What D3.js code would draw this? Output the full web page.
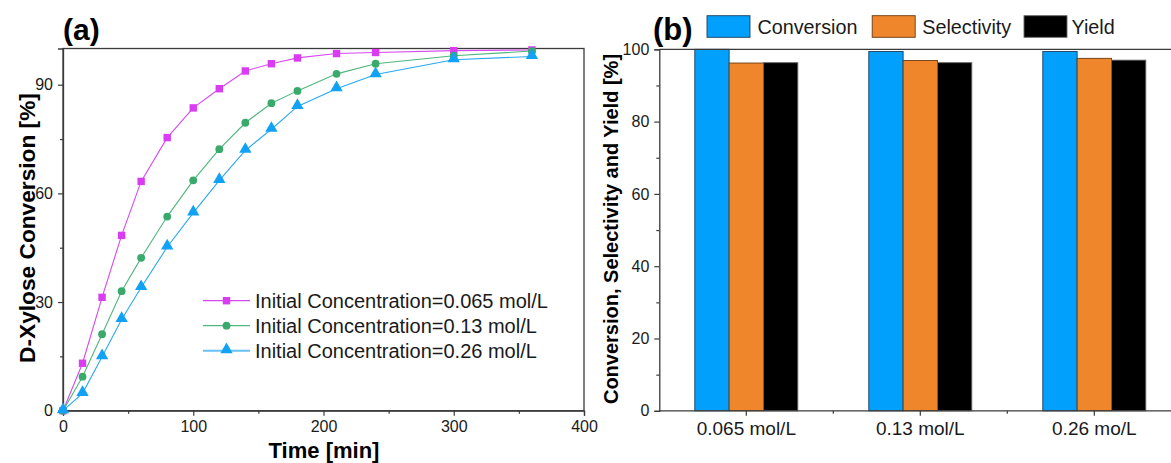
<!DOCTYPE html>
<html><head><meta charset="utf-8">
<script src="https://cdn.jsdelivr.net/npm/d3@7"></script>
<style>body{margin:0;background:#fff}svg{display:block;font-family:"Liberation Sans",Arial,sans-serif}</style>
</head><body>
<svg id="c" width="1171" height="463"></svg>
<script>
// ---------- data: panel (a) ----------
const timeA = [0, 15, 30, 45, 60, 80, 100, 120, 140, 160, 180, 210, 240, 300, 360];
const conv065 = [0, 13.1, 31.3, 48.4, 63.3, 75.4, 83.6, 88.9, 93.8, 95.8, 97.4, 98.6, 98.9, 99.4, 99.6];
const conv013 = [0, 9.4, 21.1, 33.0, 42.2, 53.6, 63.6, 72.2, 79.5, 84.9, 88.3, 93.0, 95.8, 98.0, 99.3];
const conv026 = [0, 4.8, 14.9, 25.2, 34.0, 45.2, 54.6, 63.6, 71.9, 77.7, 84.0, 88.9, 92.8, 96.9, 97.8];
const seriesNamesA = ["Initial Concentration=0.065 mol/L", "Initial Concentration=0.13 mol/L", "Initial Concentration=0.26 mol/L"];
const xTicksA = [0, 100, 200, 300, 400];
const yTicksA = [0, 30, 60, 90];
// ---------- data: panel (b) ----------
const categoriesB = ["0.065 mol/L", "0.13 mol/L", "0.26 mo/L"];
const metricsB = ["Conversion", "Selectivity", "Yield"];
const conversionB = [100, 99.4, 99.4];
const selectivityB = [96.2, 96.9, 97.5];
const yieldB = [96.3, 96.3, 97.0];
const yTicksB = [0, 20, 40, 60, 80, 100];

const svg = d3.select("#c");
const axisCol = "#3a3a3a";
const FONT = '"Liberation Sans",Arial,sans-serif';

// ================= Panel (a) =================
const xA = d3.scaleLinear().domain([0, 400]).range([63, 584]);
const yA = d3.scaleLinear().domain([0, 100]).range([410.7, 48.5]);

const gA = svg.append("g");
gA.append("rect").attr("x", xA(0)).attr("y", yA(100)).attr("width", xA(400) - xA(0)).attr("height", yA(0) - yA(100))
  .attr("fill", "none").attr("stroke", axisCol).attr("stroke-width", 1.3);

const xAxA = gA.append("g").attr("transform", `translate(0,${yA(0)})`)
  .call(d3.axisBottom(xA).tickValues(xTicksA).tickSize(5).tickPadding(5));
gA.append("g").attr("transform", `translate(0,${yA(0)})`)
  .call(d3.axisBottom(xA).tickValues([50, 150, 250, 350]).tickSize(3).tickFormat(""))
  .call(g => g.select(".domain").remove());
const yAxA = gA.append("g").attr("transform", `translate(${xA(0)},0)`)
  .call(d3.axisLeft(yA).tickValues(yTicksA).tickSize(5).tickPadding(5));
gA.append("g").attr("transform", `translate(${xA(0)},0)`)
  .call(d3.axisLeft(yA).tickValues([15, 45, 75]).tickSize(3).tickFormat(""))
  .call(g => g.select(".domain").remove());

[xAxA, yAxA].forEach(a => { a.select(".domain").attr("stroke", axisCol).attr("stroke-width", 1.3); });
gA.selectAll(".tick line").attr("stroke", axisCol).attr("stroke-width", 1.2);
gA.selectAll(".tick text").attr("font-size", 16).attr("fill", "#1a1a1a").attr("font-family", FONT);

gA.append("text").attr("x", 324).attr("y", 458).attr("text-anchor", "middle")
  .attr("font-size", 22).attr("font-weight", "bold").text("Time [min]");
gA.append("text").attr("transform", `translate(35,228) rotate(-90)`).attr("text-anchor", "middle")
  .attr("font-size", 22.7).attr("font-weight", "bold").text("D-Xylose Conversion [%]");
gA.append("text").attr("x", 63).attr("y", 40).attr("font-size", 30).attr("font-weight", "bold").text("(a)");

const seriesA = [
  {vals: conv065, color: "#d93cf2", lineColor: "#d54af0", shape: "square"},
  {vals: conv013, color: "#3aaa6c", lineColor: "#4fb67c", shape: "circle"},
  {vals: conv026, color: "#11a2f6", lineColor: "#2aa8f2", shape: "triangle"}
];
const symMap = {square: d3.symbolSquare, circle: d3.symbolCircle, triangle: d3.symbolTriangle};
const symSize = {square: 55, circle: 48, triangle: 66};
const line = d3.line().x(d => xA(d[0])).y(d => yA(d[1]));

seriesA.forEach((s, i) => {
  const pts = timeA.map((t, k) => [t, s.vals[k]]);
  gA.append("path").datum(pts).attr("d", line).attr("fill", "none").attr("stroke", s.lineColor).attr("stroke-width", 1.1);
  const sym = d3.symbol().type(symMap[s.shape]).size(symSize[s.shape]);
  gA.selectAll(null).data(pts).enter().append("path")
    .attr("d", sym).attr("transform", d => `translate(${xA(d[0])},${yA(d[1]) - (s.shape === "triangle" ? 1 : 0)})`)
    .attr("fill", s.color);
  const ly = 300.7 + i * 25;
  gA.append("line").attr("x1", 203).attr("x2", 250).attr("y1", ly).attr("y2", ly)
    .attr("stroke", s.lineColor).attr("stroke-width", s.shape === "triangle" ? 2 : 1.2).attr("stroke-opacity", s.shape === "triangle" ? 0.7 : 1);
  gA.append("path").attr("d", sym).attr("transform", `translate(226.5,${ly - (s.shape === "triangle" ? 1 : 0)})`).attr("fill", s.color);
  gA.append("text").attr("x", 255).attr("y", ly + 7).attr("font-size", 20).attr("fill", "#1a1a1a").text(seriesNamesA[i]);
});

// ================= Panel (b) =================
const x0B = 659.3, bandStep = 174;
const xB = d3.scaleBand().domain(categoriesB).range([x0B, x0B + 3 * bandStep]).paddingInner(0.408).paddingOuter(0.204);
const xSub = d3.scaleBand().domain(metricsB).range([0, xB.bandwidth()]);
const yB = d3.scaleLinear().domain([0, 100]).range([410.8, 49.3]);
const colorsB = {Conversion: "#00a0fc", Selectivity: "#f0862b", Yield: "#000000"};
const strokesB = {Conversion: "#1f3f5f", Selectivity: "#6a3a10", Yield: "#666666"};
const valuesB = {Conversion: conversionB, Selectivity: selectivityB, Yield: yieldB};

const gB = svg.append("g");
categoriesB.forEach((c, ci) => {
  metricsB.forEach(m => {
    const v = valuesB[m][ci];
    gB.append("rect").attr("x", xB(c) + xSub(m)).attr("y", yB(v))
      .attr("width", xSub.bandwidth()).attr("height", yB(0) - yB(v))
      .attr("fill", colorsB[m]).attr("stroke", strokesB[m]).attr("stroke-width", 0.9);
  });
});
const xAxB = gB.append("g").attr("transform", `translate(0,${yB(0)})`)
  .call(d3.axisBottom(xB).tickSize(5).tickPadding(6));
xAxB.select(".domain").attr("d", `M${x0B},0H1171`);
const bounds = [x0B + bandStep, x0B + 2 * bandStep];
gB.selectAll(null).data(bounds).enter().append("line")
  .attr("x1", d => d).attr("x2", d => d).attr("y1", yB(0)).attr("y2", yB(0) + 3)
  .attr("stroke", axisCol).attr("stroke-width", 1.2);
gB.append("line").attr("x1", x0B).attr("x2", 1171).attr("y1", yB(100)).attr("y2", yB(100))
  .attr("stroke", axisCol).attr("stroke-width", 1.3);
const yAxB = gB.append("g").attr("transform", `translate(${x0B},0)`)
  .call(d3.axisLeft(yB).tickValues(yTicksB).tickSize(5).tickPadding(5));
gB.append("g").attr("transform", `translate(${x0B},0)`)
  .call(d3.axisLeft(yB).tickValues([10, 30, 50, 70, 90]).tickSize(3).tickFormat(""))
  .call(g => g.select(".domain").remove());
[xAxB, yAxB].forEach(a => a.select(".domain").attr("stroke", axisCol).attr("stroke-width", 1.3));
gB.selectAll(".tick line").attr("stroke", axisCol).attr("stroke-width", 1.2);
gB.selectAll(".tick text").attr("font-size", 16).attr("fill", "#1a1a1a").attr("font-family", FONT);
xAxB.selectAll(".tick text").attr("font-size", 19).attr("dy", null).attr("y", 24.5);

gB.append("text").attr("transform", `translate(618,229) rotate(-90)`).attr("text-anchor", "middle")
  .attr("font-size", 20).attr("font-weight", "bold").text("Conversion, Selectivity and Yield [%]");
gB.append("text").attr("x", 653).attr("y", 40).attr("font-size", 31).attr("font-weight", "bold").text("(b)");

const legX = {Conversion: [707, 757.4], Selectivity: [872.2, 922.2], Yield: [1024, 1071.5]};
metricsB.forEach(m => {
  gB.append("rect").attr("x", legX[m][0]).attr("y", 15.7).attr("width", 43).attr("height", 21.6)
    .attr("fill", colorsB[m]).attr("stroke", strokesB[m]).attr("stroke-width", 0.9);
  gB.append("text").attr("x", legX[m][1]).attr("y", 33.5).attr("font-size", 19.8).attr("fill", "#1a1a1a").text(m);
});
</script>
</body></html>
